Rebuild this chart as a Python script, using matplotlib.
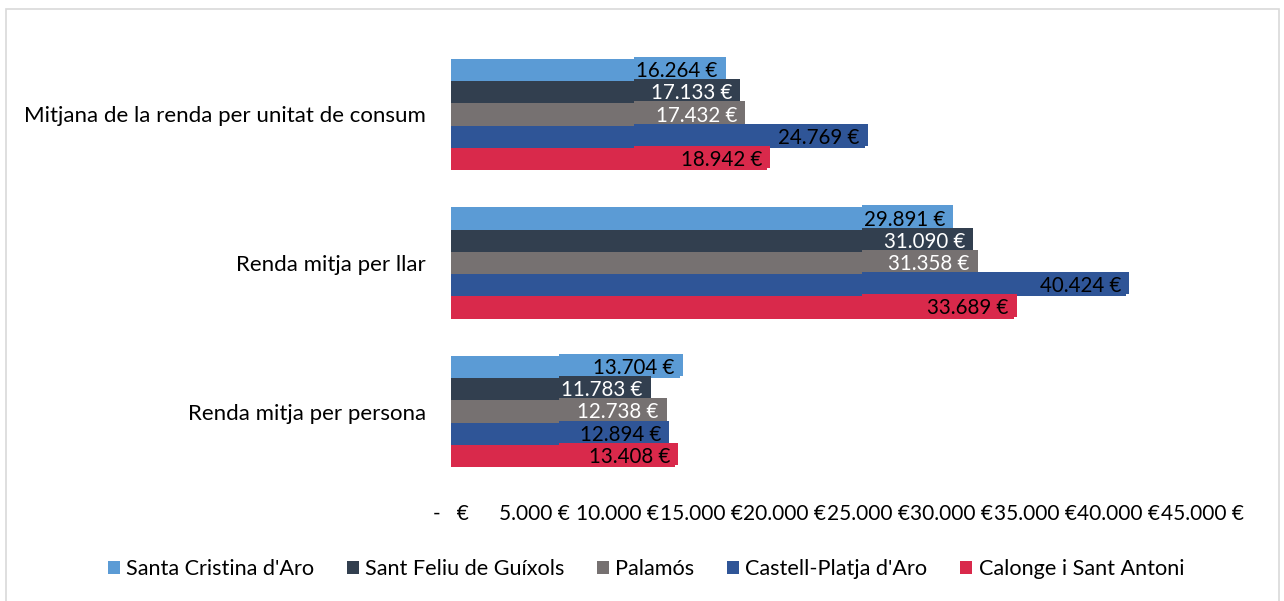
import numpy as np
import matplotlib.pyplot as plt
from matplotlib.patches import Rectangle

# categories from bottom to top (barh draws index 0 at the bottom)
categories = ["Renda mitja per persona",
              "Renda mitja per llar",
              "Mitjana de la renda per unitat de consum"]

municipalities = ["Santa Cristina d'Aro", "Sant Feliu de Guíxols", "Palamós",
                  "Castell-Platja d'Aro", "Calonge i Sant Antoni"]

santa_cristina = [13704, 29891, 16264]
sant_feliu = [11783, 31090, 17133]
palamos = [12738, 31358, 17432]
castell_platja = [12894, 40424, 24769]
calonge = [13408, 33689, 18942]

series = [santa_cristina, sant_feliu, palamos, castell_platja, calonge]
colors = ["#5B9BD5", "#323F4F", "#767171", "#2F5597", "#D9294B"]
text_colors = ["black", "white", "white", "black", "black"]

xticks = np.arange(0, 45001, 5000)


def euro(v):
    if v == 0:
        return "-   €"
    return f"{v:,.0f}".replace(",", ".") + " €"


plt.rcParams['font.family'] = ['Lato', 'DejaVu Sans']

fig = plt.figure(figsize=(12.84, 6.01), dpi=100)
ax = fig.add_axes([451 / 1284, 1 - 485.75 / 601, 751.4 / 1284, 445.5 / 601])

y = np.arange(len(categories))
h = 0.1495
n = len(series)

texts = []
for i, vals in enumerate(series):
    ypos = y + (n / 2 - 0.5 - i) * h
    ax.barh(ypos, vals, height=h, color=colors[i], label=municipalities[i], zorder=2)
    row = []
    for yy, v in zip(ypos, vals):
        t = ax.annotate(euro(v), (v, yy), xytext=(-5, -1), textcoords='offset pixels',
                        ha='right', va='center', fontsize=14.8, color=text_colors[i], zorder=5)
        row.append((t, yy, v))
    texts.append(row)

ax.set_xlim(0, 45000)
ax.set_ylim(-0.5, len(categories) - 0.5)
ax.set_xticks(xticks)
ax.set_xticklabels([euro(v) for v in xticks], fontsize=15)
ax.set_yticks(y)
ax.set_yticklabels(categories, fontsize=16)
ax.tick_params(axis='x', length=0, pad=13)
ax.tick_params(axis='y', length=0, pad=18)
for s in ax.spines.values():
    s.set_visible(False)

# label boxes: Excel stretches each label background to the left-most label of its group
fig.canvas.draw()
r = fig.canvas.get_renderer()
inv = ax.transData.inverted()
px = inv.transform((1, 0))[0] - inv.transform((0, 0))[0]
py = inv.transform((0, 0))[1] - inv.transform((0, 1))[1]
for g in range(len(categories)):
    lefts = []
    for row in texts:
        bb = row[g][0].get_window_extent(r)
        lefts.append(inv.transform((bb.x0, 0))[0])
    left = min(lefts) - 2 * px
    for i, row in enumerate(texts):
        t, yy, v = row[g]
        ax.add_patch(Rectangle((left, yy - h / 2 - 2 * py), v + 3 * px - left, h,
                               facecolor=colors[i], edgecolor='none', zorder=3))

handles, labels = ax.get_legend_handles_labels()
fig.legend(handles, labels, loc='center', bbox_to_anchor=(0.503, 1 - 569 / 601), ncol=5,
           frameon=False, fontsize=15.6, handlelength=0.55, handleheight=0.55,
           handletextpad=0.3, columnspacing=1.5)

fig.add_artist(Rectangle((6 / 1284, -0.1), (1279 - 6) / 1284, 1.1 - 9 / 601,
                         transform=fig.transFigure, facecolor='none',
                         edgecolor='#D9D9D9', lw=1.2))

fig.savefig("out.png", dpi=100)
